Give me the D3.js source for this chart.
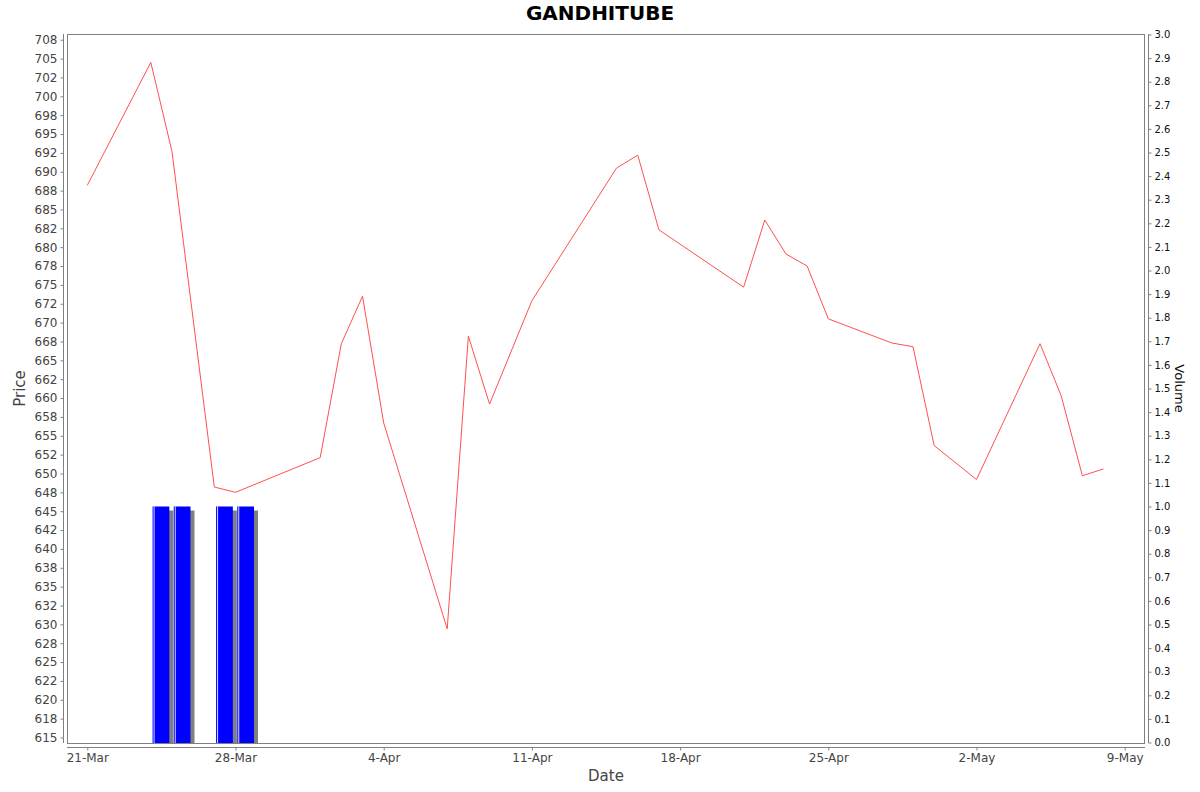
<!DOCTYPE html>
<html>
<head>
<meta charset="utf-8">
<script src="https://cdn.jsdelivr.net/npm/d3@7"></script>
<style>
  body { margin: 0; background: #fff; }
  text { font-family: "DejaVu Sans", sans-serif; }
</style>
</head>
<body>
<div id="chart"></div>
<script>
// chart data
var dates = ["2025-03-21", "2025-03-24", "2025-03-25", "2025-03-27", "2025-03-28",
  "2025-04-01", "2025-04-02", "2025-04-03", "2025-04-04", "2025-04-07", "2025-04-08",
  "2025-04-09", "2025-04-11", "2025-04-15", "2025-04-16", "2025-04-17", "2025-04-21",
  "2025-04-22", "2025-04-23", "2025-04-24", "2025-04-25", "2025-04-28", "2025-04-29",
  "2025-04-30", "2025-05-02", "2025-05-05", "2025-05-06", "2025-05-07", "2025-05-08"];
var prices = [688.2, 704.5, 692.7, 648.2, 647.5,
  652.1, 667.2, 673.5, 656.7, 629.4, 668.2,
  659.2, 672.9, 690.5, 692.2, 682.3, 674.7,
  683.6, 679.1, 677.5, 670.5, 667.3, 666.8,
  653.7, 649.2, 667.2, 660.3, 649.7, 650.6];
var volumes = [0, 1, 1, 1, 1,
  0, 0, 0, 0, 0, 0,
  0, 0, 0, 0, 0, 0,
  0, 0, 0, 0, 0, 0,
  0, 0, 0, 0, 0, 0];

var priceTicks = d3.range(615, 708, 2.5);
var priceTickLabels = ["615", "618", "620", "622", "625", "628", "630", "632", "635", "638",
  "640", "642", "645", "648", "650", "652", "655", "658", "660", "662",
  "665", "668", "670", "672", "675", "678", "680", "682", "685", "688",
  "690", "692", "695", "698", "700", "702", "705", "708"];
var volumeTicks = d3.range(0, 31).map(function(i) { return i / 10; });

var title = "GANDHITUBE";

// plot area
var W = 1200, H = 792;
var plot = {left: 67, right: 1145, top: 34, bottom: 743};

var parse = d3.utcParse("%Y-%m-%d");
var data = dates.map(function(d, i) {
  return {date: parse(d), price: prices[i], volume: volumes[i]};
});

var svg = d3.select("#chart").append("svg")
  .attr("width", W)
  .attr("height", H);

var x = d3.scaleUtc()
  .domain([d3.utcHour.offset(parse("2025-03-21"), -23), d3.utcHour.offset(parse("2025-05-09"), 23.5)])
  .range([plot.left, plot.right]);

var y = d3.scaleLinear()
  .domain([614.27, 708.26])
  .range([plot.bottom, plot.top]);

var yVol = d3.scaleLinear()
  .domain([0, 3])
  .range([plot.bottom - 0.5, plot.top + 0.5]);

// title
svg.append("text")
  .attr("x", (plot.left + plot.right) / 2 - 6)
  .attr("y", 20)
  .attr("text-anchor", "middle")
  .style("font-size", "20px")
  .style("font-weight", "bold")
  .text(title);

svg.append("clipPath").attr("id", "clip")
  .append("rect")
  .attr("x", plot.left).attr("y", plot.top)
  .attr("width", plot.right - plot.left).attr("height", plot.bottom - plot.top);

var g = svg.append("g").attr("clip-path", "url(#clip)");

// volume bars (shadow, bar, highlight stripe)
var bars = data.filter(function(d) { return d.volume > 0; });
function barX(d) { return x(d3.utcHour.offset(d.date, 2.4)); }
function barW(d) { return x(d3.utcHour.offset(d.date, 21.6)) - barX(d); }

g.selectAll(".shadow").data(bars).enter().append("rect")
  .attr("class", "shadow")
  .attr("x", function(d) { return barX(d) + 4; })
  .attr("y", function(d) { return yVol(d.volume) + 4; })
  .attr("width", barW)
  .attr("height", function(d) { return yVol(0) - yVol(d.volume) + 10; })
  .style("fill", "#808080");

g.selectAll(".bar").data(bars).enter().append("rect")
  .attr("class", "bar")
  .attr("x", barX)
  .attr("y", function(d) { return yVol(d.volume); })
  .attr("width", barW)
  .attr("height", function(d) { return yVol(0) - yVol(d.volume) + 1; })
  .style("fill", "#0000ff");

g.selectAll(".stripe").data(bars).enter().append("rect")
  .attr("class", "stripe")
  .attr("x", function(d) { return barX(d) + 1; })
  .attr("y", function(d) { return yVol(d.volume); })
  .attr("width", 1)
  .attr("height", function(d) { return yVol(0) - yVol(d.volume) + 1; })
  .style("fill", "#ffffff")
  .style("opacity", 0.85);

// price line
var line = d3.line()
  .x(function(d) { return x(d.date); })
  .y(function(d) { return y(d.price); });

g.append("path")
  .datum(data)
  .attr("d", line)
  .style("fill", "none")
  .style("stroke", "#ff5050")
  .style("stroke-width", 1);

// plot border
svg.append("rect")
  .attr("x", plot.left + 0.5).attr("y", plot.top + 0.5)
  .attr("width", plot.right - plot.left - 1).attr("height", plot.bottom - plot.top)
  .style("fill", "none")
  .style("stroke", "#808080");

function styleAxis(sel, color, size) {
  sel.select(".domain").style("stroke", "#808080");
  sel.selectAll(".tick line").style("stroke", "#808080");
  sel.selectAll(".tick text")
    .style("fill", color)
    .style("font-size", size)
    .style("font-family", "DejaVu Sans, sans-serif");
}

// left price axis
var leftAxis = svg.append("g")
  .attr("transform", "translate(63.5,0)")
  .call(d3.axisLeft(y)
    .tickValues(priceTicks)
    .tickFormat(function(d, i) { return priceTickLabels[i]; })
    .tickSizeInner(3)
    .tickSizeOuter(0)
    .tickPadding(3));
leftAxis.select(".domain").attr("d", "M0," + plot.top + "V" + plot.bottom);
styleAxis(leftAxis, "#444", "12px");

// right volume axis
var rightAxis = svg.append("g")
  .attr("transform", "translate(1148.5,0)")
  .call(d3.axisRight(yVol)
    .tickValues(volumeTicks)
    .tickFormat(d3.format(".1f"))
    .tickSizeInner(3)
    .tickSizeOuter(0)
    .tickPadding(3));
rightAxis.select(".domain").attr("d", "M0," + plot.top + "V" + plot.bottom);
styleAxis(rightAxis, "#111", "10px");

// bottom date axis
var bottomAxis = svg.append("g")
  .attr("transform", "translate(0,747.5)")
  .call(d3.axisBottom(x)
    .ticks(d3.utcFriday.every(1))
    .tickFormat(d3.utcFormat("%-d-%b"))
    .tickSizeInner(3)
    .tickSizeOuter(0)
    .tickPadding(3));
bottomAxis.select(".domain").attr("d", "M" + plot.left + ",0H" + plot.right);
styleAxis(bottomAxis, "#444", "12px");

// axis titles
svg.append("text")
  .attr("transform", "translate(25," + ((plot.top + plot.bottom) / 2) + ") rotate(-90)")
  .attr("text-anchor", "middle")
  .style("font-size", "15px")
  .style("fill", "#444")
  .text("Price");

svg.append("text")
  .attr("x", (plot.left + plot.right) / 2)
  .attr("y", 781)
  .attr("text-anchor", "middle")
  .style("font-size", "15px")
  .style("fill", "#444")
  .text("Date");

svg.append("text")
  .attr("transform", "translate(1175," + ((plot.top + plot.bottom) / 2) + ") rotate(90)")
  .attr("text-anchor", "middle")
  .style("font-size", "13px")
  .style("fill", "#111")
  .text("Volume");
</script>
</body>
</html>
